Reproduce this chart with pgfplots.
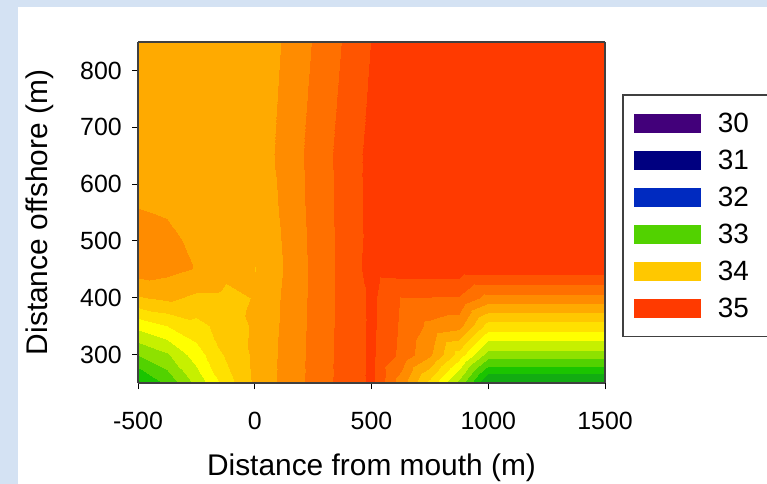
\documentclass[border=0pt]{standalone}
\usepackage{fontspec}
\setmainfont{Liberation Sans}
\usepackage{pgfplots}
\pgfplotsset{compat=1.18}

\definecolor{bgblue}{RGB}{212,226,243}
\definecolor{frame}{RGB}{64,64,64}
\definecolor{c30}{RGB}{66,0,122}
\definecolor{c31}{RGB}{0,0,128}
\definecolor{c32}{RGB}{0,42,192}
\definecolor{c33}{RGB}{82,210,0}
\definecolor{c34}{RGB}{255,200,0}
\definecolor{c35}{RGB}{255,58,0}

\pgfplotstableread{
x y v
-500 250 32.75
-375 250 33.05
-250 250 33.45
-125 250 33.90
0 250 34.23
125 250 34.455
250 250 34.661
375 250 34.867
500 250 35.04
625 250 34.50
750 250 33.93
875 250 33.33
1000 250 32.56
1500 250 32.56
-500 300 33.20
-375 300 33.37
-250 300 33.70
-125 300 34.03
0 300 34.24
125 300 34.45
250 300 34.655
375 300 34.862
500 300 35.04
625 300 34.75
750 300 34.43
875 300 33.91
1000 300 33.30
1500 300 33.30
-500 350 33.66
-375 350 33.80
-250 350 33.93
-125 350 34.09
0 350 34.23
125 350 34.44
250 350 34.65
375 350 34.857
500 350 35.04
625 350 34.77
750 350 34.55
875 350 34.47
1000 350 33.91
1500 350 33.91
-500 400 34.18
-375 400 34.24
-250 400 34.16
-125 400 34.15
0 400 34.21
125 400 34.43
250 400 34.645
375 400 34.853
500 400 35.04
625 400 34.79
750 400 34.79
875 400 34.78
1000 400 34.52
1500 400 34.52
-500 450 34.50
-375 450 34.46
-250 450 34.39
-125 450 34.25
0 450 34.199
125 450 34.408
250 450 34.644
375 450 34.851
500 450 35.08
625 450 35.10
750 450 35.10
875 450 35.10
1000 450 35.12
1500 450 35.12
-500 500 34.52
-375 500 34.48
-250 500 34.33
-125 500 34.28
0 500 34.21
125 500 34.422
250 500 34.649
375 500 34.854
500 500 35.064
625 500 35.20
750 500 35.30
875 500 35.30
1000 500 35.30
1500 500 35.30
-500 550 34.42
-375 550 34.38
-250 550 34.30
-125 550 34.30
0 550 34.22
125 550 34.441
250 550 34.656
375 550 34.858
500 550 35.064
625 550 35.20
750 550 35.30
875 550 35.30
1000 550 35.30
1500 550 35.30
-500 600 34.30
-375 600 34.30
-250 600 34.30
-125 600 34.30
0 600 34.24
125 600 34.454
250 600 34.661
375 600 34.861
500 600 35.066
625 600 35.20
750 600 35.30
875 600 35.30
1000 600 35.30
1500 600 35.30
-500 650 34.30
-375 650 34.30
-250 650 34.30
-125 650 34.30
0 650 34.266
125 650 34.468
250 650 34.667
375 650 34.865
500 650 35.066
625 650 35.20
750 650 35.30
875 650 35.30
1000 650 35.30
1500 650 35.30
-500 850 34.30
-375 850 34.30
-250 850 34.30
-125 850 34.30
0 850 34.232
125 850 34.421
250 850 34.611
375 850 34.805
500 850 35.01
625 850 35.20
750 850 35.30
875 850 35.30
1000 850 35.30
1500 850 35.30
}\salinity

\begin{document}
\begin{tikzpicture}[x=1bp,y=1bp]
\useasboundingbox (0,0) rectangle (767,-484);
\fill[bgblue] (0,0) rectangle (767,-484);
\fill[white] (18,-7) rectangle (767,-484);
\begin{axis}[
  view={0}{90},
  scale only axis, width=467bp, height=341bp,
  at={(138bp,-383bp)}, anchor=south west,
  xmin=-500, xmax=1500, ymin=250, ymax=850, zmin=32, zmax=36,
  xtick={-500,0,500,1000,1500}, xticklabels={-500,0,500,1000,1500},
  ytick={300,400,500,600,700,800}, yticklabels={300,400,500,600,700,800},
  ztick=\empty,
  xtick pos=left, ytick pos=left,
  tick align=outside, major tick length=6bp,
  tick style={black, line width=1bp},
  axis line style={draw=frame, line width=1.5bp},
  axis on top,
  tick label style={font=\fontsize{25}{30}\selectfont},
  xticklabel style={anchor=base, inner sep=0pt, yshift=-40bp},
  yticklabel style={anchor=east, inner sep=0pt, xshift=-10bp},
  label style={font=\fontsize{30}{36}\selectfont},
  xlabel={Distance from mouth (m)},
  xlabel style={at={(axis description cs:0.5,0)}, anchor=base, yshift=-92bp},
  ylabel={Distance offshore (m)},
  ylabel style={at={(axis description cs:-0.2099,0.5)}, anchor=center},
  colormap={sal}{rgb255=(10,150,10) rgb255=(18,172,18) rgb255=(26,196,0)
    rgb255=(82,210,0) rgb255=(142,225,0) rgb255=(198,240,0) rgb255=(255,255,0)
    rgb255=(255,225,0) rgb255=(255,200,0) rgb255=(255,170,0) rgb255=(255,140,0)
    rgb255=(255,112,0) rgb255=(255,85,0) rgb255=(255,58,0)},
  colormap access=piecewise constant,
  point meta min=32.4, point meta max=35.2,
  legend image code/.code={\fill[#1] (0bp,-9.5bp) rectangle (67bp,9.5bp);},
  legend style={at={(1.0364,0.8475)}, anchor=north west,
    draw=frame, line width=1.5bp, inner xsep=11bp, inner ysep=18bp,
    font=\fontsize{28}{28}\selectfont, row sep=16bp,
    nodes={inner sep=0pt},
    /tikz/every odd column/.append style={column sep=17bp},
    cells={anchor=west}},
]
\addplot3[surf, shader=interp, mesh/cols=14, point meta=z, forget plot]
  table[x=x, y=y, z=v] {\salinity};
\addlegendimage{fill=c30, draw=none}\addlegendentry{\makebox[45bp][l]{30}}
\addlegendimage{fill=c31, draw=none}\addlegendentry{\makebox[45bp][l]{31}}
\addlegendimage{fill=c32, draw=none}\addlegendentry{\makebox[45bp][l]{32}}
\addlegendimage{fill=c33, draw=none}\addlegendentry{\makebox[45bp][l]{33}}
\addlegendimage{fill=c34, draw=none}\addlegendentry{\makebox[45bp][l]{34}}
\addlegendimage{fill=c35, draw=none}\addlegendentry{\makebox[45bp][l]{35}}
\end{axis}
\end{tikzpicture}
\end{document}
